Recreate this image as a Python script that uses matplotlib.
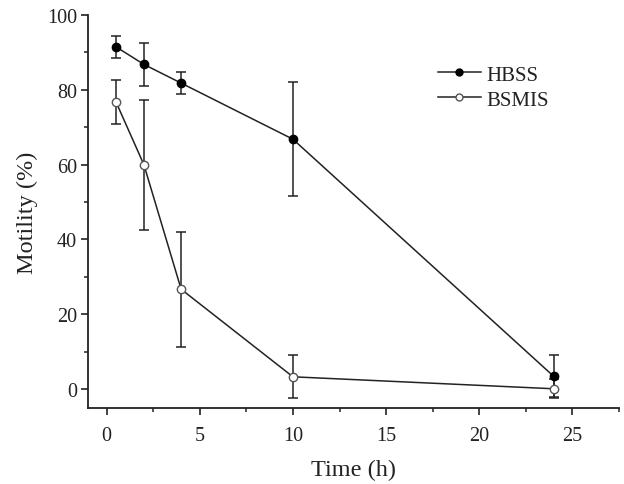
import matplotlib.pyplot as plt
from matplotlib.lines import Line2D

plt.rcParams['font.family'] = ['Liberation Serif', 'DejaVu Serif']

# Data
time_h = [0.5, 2, 4, 10, 24]
hbss = [91.5, 86.8, 81.8, 66.8, 3.4]
hbss_err = [3.0, 5.8, 3.0, 15.2, 5.6]
bsmis = [76.8, 60.0, 26.7, 3.3, 0.1]
bsmis_err = [5.8, 17.4, 15.4, 5.7, 2.5]

fig = plt.figure(figsize=(6.24, 4.85), dpi=100)
ax = fig.add_axes([0.141, 0.157, 0.851, 0.81])

line_col = "#222222"
ax.errorbar(time_h, hbss, yerr=hbss_err, color=line_col, lw=1.1, marker="o", ms=6,
            mfc="black", mec="black", capsize=3.5, elinewidth=1.1, capthick=1.1,
            zorder=3)
ax.errorbar(time_h, bsmis, yerr=bsmis_err, color=line_col, lw=1.1, marker="o", ms=6,
            mfc="white", mec="#555555", capsize=3.5, elinewidth=1.1, capthick=1.1,
            zorder=3)

ax.set_xlim(-1, 27.5)
ax.set_ylim(-5, 100)
ax.set_xticks([0, 5, 10, 15, 20, 25])
ax.set_xticks([2.5, 7.5, 12.5, 17.5, 22.5, 27.5], minor=True)
ax.set_yticks([0, 20, 40, 60, 80, 100])
ax.set_yticks([10, 30, 50, 70, 90], minor=True)

for side in ["top", "right"]:
    ax.spines[side].set_visible(False)
for side in ["left", "bottom"]:
    ax.spines[side].set_linewidth(1.3)
    ax.spines[side].set_color(line_col)

ax.tick_params(which="major", direction="out", length=5, width=1.2, labelsize=14.5,
               colors=line_col)
ax.tick_params(axis="x", which="major", pad=8)
ax.tick_params(axis="y", which="major", pad=3)
ax.tick_params(which="minor", direction="out", length=3, width=1.1, colors=line_col)

ax.set_xlabel("Time (h)", fontsize=17.5, color=line_col, labelpad=10)
ax.set_ylabel("Motility (%)", fontsize=17.5, color=line_col, labelpad=6)

handles = [
    Line2D([], [], color=line_col, lw=1.1, marker="o", ms=5, mfc="black", mec="black"),
    Line2D([], [], color=line_col, lw=1.1, marker="o", ms=5, mfc="white", mec="#555555"),
]
leg = ax.legend(handles, ["HBSS", "BSMIS"], loc="upper left",
                bbox_to_anchor=(0.623, 0.92), frameon=False, fontsize=15,
                handlelength=2.1, handletextpad=0.25, labelspacing=0.25)
for t in leg.get_texts():
    t.set_color(line_col)

fig.savefig("out.png", dpi=100)
